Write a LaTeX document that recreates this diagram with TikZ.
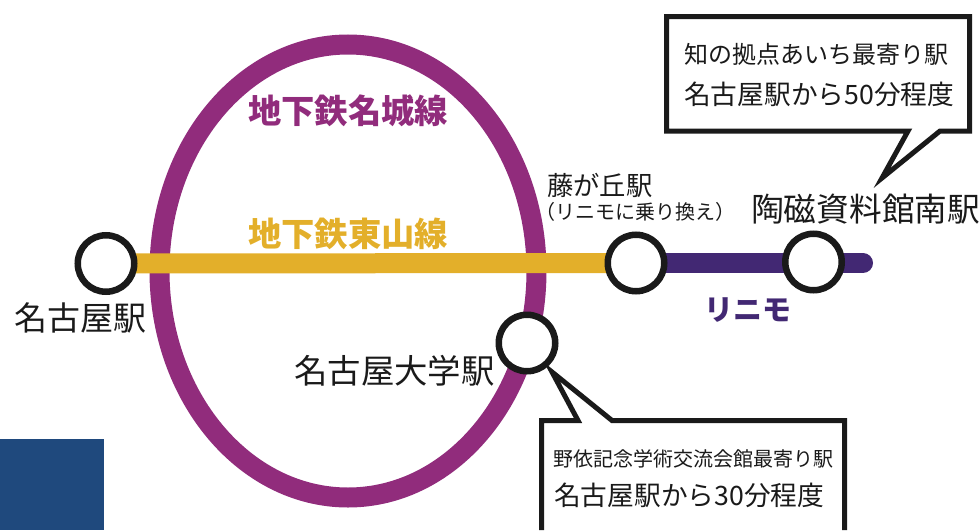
\documentclass[tikz,border=0pt]{standalone}
\usepackage{fontspec}
\setmainfont{Noto Sans CJK JP}
\usetikzlibrary{backgrounds,shapes.geometric}
\definecolor{meijo}{HTML}{912C7C}
\definecolor{higashi}{HTML}{E3AF2A}
\definecolor{linimo}{HTML}{422873}
\definecolor{corner}{HTML}{1F497D}
\definecolor{ink}{HTML}{1A1A1A}
\tikzset{
  station/.style={circle,draw=ink,fill=white,line width=6.5pt,minimum size=56.5pt,inner sep=0pt},
  txt/.style={anchor=base west,inner sep=0pt,text=ink},
  linelabel/.style={anchor=base west,inner sep=0pt,font=\fontsize{33.3}{33.3}\selectfont\bfseries},
  track/.style={line width=20pt},
  callout/.style={draw=ink,fill=white,line width=5pt,line join=miter,miter limit=6},
}
\newcommand{\fs}[1]{\fontsize{#1}{#1}\selectfont}
\begin{document}
\begin{tikzpicture}[x=1pt,y=-1pt]
\useasboundingbox (0,0) rectangle (979,530);
% stations
\node[station] (nagoya) at (106,263.5) {};
\node[station] (fuji) at (636,263) {};
\node[station] (toji) at (813.5,262) {};
\node[station] (meidai) at (527,343) {};
\coordinate (lineend) at (863,263);
% tracks behind the stations
\begin{pgfonlayer}{background}
\node[draw=meijo,line width=20pt,ellipse,minimum width=377pt,minimum height=453pt,inner sep=0pt,outer sep=0pt] (ring) at (348,271) {};
\draw[track,higashi] (nagoya.center) -- (fuji.center);
\draw[track,linimo,line cap=round] (fuji.center) -- (lineend);
\end{pgfonlayer}
\fill[corner] (0,439) rectangle (104,530);
% line labels
\node[linelabel,text=meijo] (lm) at (248,123.5) {地下鉄名城線};
\node[linelabel,text=higashi] (lh) at (248,246.5) {地下鉄東山線};
\node[linelabel,text=linimo,font=\fontsize{29}{29}\selectfont\bfseries] (ll) at (704,320) {リニモ};
% station labels
\node[txt,font=\fs{33}] (tn) at (14,330) {名古屋駅};
\node[txt,font=\fs{33.4}] (tm) at (294,383) {名古屋大学駅};
\node[txt,font=\fs{26.3}] (tf) at (547,195) {藤が丘駅};
\node[txt,font=\fs{20}] (tf2) at (535.5,219) {（リニモに乗り換え）};
\node[txt,font=\fs{32.7}] (tt) at (751,221) {陶磁資料館南駅};
% callouts
\draw[callout] (666.5,16.5) -- (969.5,16.5) -- (969.5,131) -- (940,131) -- (882,178) -- (908,131) -- (666.5,131) -- cycle;
\node[txt,font=\fs{24}] (c1a) at (684,63) {知の拠点あいち最寄り駅};
\node[txt,font=\fs{26.7}] (c1b) at (684,104) {名古屋駅から50分程度};
\fill[white] (541.5,420.5) rectangle (844.5,530);
\draw[callout] (541.5,530) -- (541.5,420.5) -- (578,420.5) -- (552,372) -- (612,420.5) -- (844.5,420.5) -- (844.5,530);
\node[txt,font=\fs{20}] (c2a) at (553,466) {野依記念学術交流会館最寄り駅};
\node[txt,font=\fs{26.7}] (c2b) at (554,505) {名古屋駅から30分程度};
\end{tikzpicture}
\end{document}
